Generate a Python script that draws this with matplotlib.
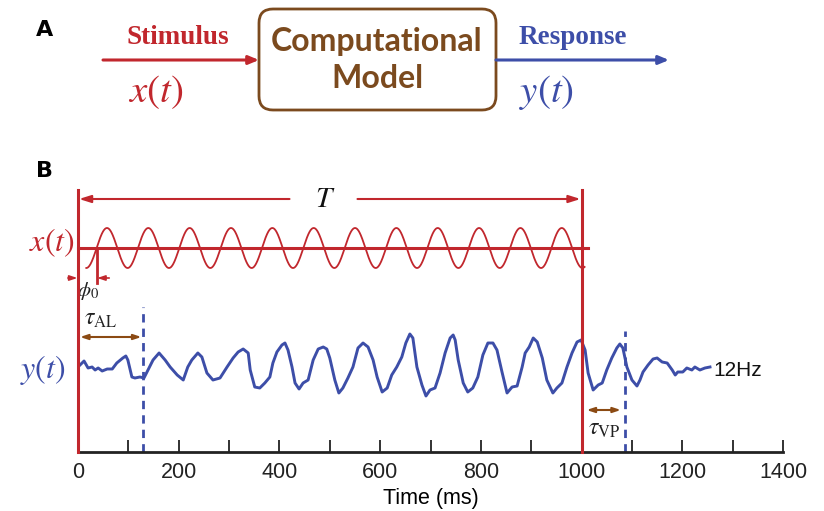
import numpy as np
import matplotlib
matplotlib.use('Agg')
import matplotlib.pyplot as plt
from matplotlib.patches import FancyBboxPatch

# ==================== data ====================

# stimulus: sinusoid, peaks
STIM_FREQ_HZ = 12.18
STIM_ZERO_MS = 37.0        # first upward zero crossing (phi_0)
STIM_END_MS = 1006.0

# response y(t) (ms, arbitrary units about baseline)
resp_t = [4, 12, 20, 28, 34, 40, 48, 58, 68, 77, 89, 95, 99, 107, 113, 123, 131, 139,
          149, 161, 173, 183, 197, 209, 218, 226, 238, 246, 256, 268, 282, 296, 308,
          318, 328, 338, 342, 351, 361, 371, 381, 387, 395, 405, 411, 417, 425, 431,
          439, 447, 457, 467, 477, 487, 494, 500, 510, 518, 526, 536, 546, 556, 566,
          576, 586, 594, 604, 614, 623, 633, 643, 651, 659, 665, 673, 683, 691, 699,
          709, 719, 729, 739, 745, 749, 755, 765, 774, 784, 794, 804, 814, 824, 832,
          842, 852, 862, 872, 882, 888, 896, 904, 912, 922, 931, 943, 951, 961, 971,
          981, 991, 999, 1007, 1013, 1023, 1033, 1041, 1050, 1060, 1070, 1076, 1082,
          1090, 1100, 1110, 1116, 1122, 1132, 1142, 1150, 1160, 1170, 1180, 1186,
          1191, 1201, 1209, 1219, 1225, 1235, 1245, 1255]
resp_v = [7, 11, 4, 5, 2, 4, 1, 3, 3, 9, 14, 16, 12, -5, -6, -5, -6, 2,
          12, 19, 12, 5, -3, -8, 5, 12, 19, 15, -1, -8, -6, 5, 14,
          20, 23, 19, 2, -15, -16, -11, -5, 9, 20, 27, 29, 22, 5, -11,
          -17, -11, -8, 12, 23, 25, 23, 14, -8, -21, -16, -6, 5, 24, 29,
          25, 12, -5, -20, -16, -3, 5, 15, 29, 38, 34, 5, -13, -24, -18,
          -16, -1, 19, 34, 37, 32, 12, -11, -20, -16, -5, 17, 29, 29, 22,
          0, -21, -15, -14, 5, 19, 25, 34, 30, 14, -8, -21, -16, -11, 5,
          19, 30, 32, 22, -1, -18, -13, -11, 2, 14, 24, 28, 24,
          5, -8, -14, -8, 0, 7, 13, 14, 10, 9, 2, -3,
          0, 0, 4, 2, 5, 2, 4, 5]

STIM_PERIOD_MS = 1000.0     # T
LATENCY_MS = 130.0          # tau_AL
PERSIST_MS = 1086.0         # end of tau_VP

xticks_major = [0, 200, 400, 600, 800, 1000, 1200, 1400]
xticks_minor = [100, 300, 500, 700, 900, 1100, 1300]

# ==================== style ====================

RED = '#c1272d'
BLUE = '#3d4ea8'
BROWN = '#7b4a1e'
ARROW_BROWN = '#8b4a13'
SERIF = 'Liberation Serif'
SANS = 'Liberation Sans'

fig = plt.figure(figsize=(8.24, 5.11), dpi=100)

# overlay in pixel coordinates for panel A and panel letters
ov = fig.add_axes([0, 0, 1, 1])
ov.set_xlim(0, 824)
ov.set_ylim(511, 0)
ov.axis('off')

ov.text(45, 30, 'A', fontsize=16, fontweight='bold', ha='center', va='center',
        family='DejaVu Sans')
ov.text(45, 171, 'B', fontsize=16, fontweight='bold', ha='center', va='center',
        family='DejaVu Sans')

box = FancyBboxPatch((259, 9), 237, 101, boxstyle='round,pad=0,rounding_size=14',
                     fc='white', ec=BROWN, lw=2)
ov.add_patch(box)
ov.text(377, 42, 'Computational', fontsize=23, fontweight='bold', color=BROWN,
        ha='center', va='center', family='Lato')
ov.text(377, 79, 'Model', fontsize=23, fontweight='bold', color=BROWN,
        ha='center', va='center', family='Lato')

ov.annotate('', xy=(259, 60), xytext=(103, 60),
            arrowprops=dict(arrowstyle='-|>,head_length=0.6,head_width=0.25',
                            color=RED, lw=2.2, shrinkA=0, shrinkB=0))
ov.annotate('', xy=(669, 60), xytext=(496, 60),
            arrowprops=dict(arrowstyle='-|>,head_length=0.6,head_width=0.25',
                            color=BLUE, lw=2.2, shrinkA=0, shrinkB=0))
ov.text(178, 37, 'Stimulus', fontsize=19.5, fontweight='bold', color=RED,
        ha='center', va='center', family=SERIF)
ov.text(573, 37, 'Response', fontsize=19.5, fontweight='bold', color=BLUE,
        ha='center', va='center', family=SERIF)
ov.text(156, 92, r'$x(t)$', fontsize=28, color=RED, ha='center', va='center',
        math_fontfamily='stix')
ov.text(547, 92, r'$y(t)$', fontsize=28, color=BLUE, ha='center', va='center',
        math_fontfamily='stix')

# ==================== panel B ====================

ax = fig.add_axes([78 / 824, 1 - 452 / 511, (783 - 78) / 824, (452 - 175) / 511])
ax.set_xlim(0, 1400)
ax.set_ylim(0, 277)
for side in ['left', 'top', 'right']:
    ax.spines[side].set_visible(False)
ax.spines['bottom'].set_linewidth(2)
ax.spines['bottom'].set_color('#222222')
ax.set_yticks([])
ax.set_xticks(xticks_major)
ax.set_xticks(xticks_minor, minor=True)
ax.tick_params(axis='x', which='both', direction='in', length=9, width=1.3,
               colors='#222222', labelsize=15.5, pad=7)
for lab in ax.get_xticklabels():
    lab.set_family(SANS)
ax.set_xlabel('Time (ms)', fontsize=15.5, labelpad=4, family=SANS)

STIM_BASE = 204
STIM_AMP = 20
RESP_BASE = 80

# stimulus, drawn from the trough just before the first zero crossing
stim_start = STIM_ZERO_MS - 250.0 / STIM_FREQ_HZ
t = np.linspace(stim_start, STIM_END_MS, 2000)
stim = np.sin(2 * np.pi * STIM_FREQ_HZ * (t - STIM_ZERO_MS) / 1000.0)
ax.plot(t, STIM_BASE + STIM_AMP * stim, color=RED, lw=1.3, clip_on=False)
ax.plot([0, 1012], [STIM_BASE, STIM_BASE], color=RED, lw=2.2, clip_on=False)

# red onset / offset lines
for tx in [0, STIM_PERIOD_MS]:
    ax.plot([tx, tx], [0, 262], color=RED, lw=2.2, clip_on=False, zorder=4)

# response
ax.plot(resp_t, RESP_BASE + np.array(resp_v), color=BLUE, lw=2.1, clip_on=False,
        solid_joinstyle='round')

# dashed latency markers
ax.plot([LATENCY_MS, LATENCY_MS], [0, 145], color=BLUE, lw=2, ls=(0, (3, 2.2)),
        clip_on=False)
ax.plot([PERSIST_MS, PERSIST_MS], [0, 121], color=BLUE, lw=2, ls=(0, (3, 2.2)),
        clip_on=False)

# T arrow with gap for label
arr = dict(arrowstyle='-|>,head_length=0.7,head_width=0.22', color=RED, lw=1.5,
           shrinkA=0, shrinkB=0)
ax.annotate('', xy=(2, 253), xytext=(420, 253), arrowprops=arr, annotation_clip=False)
ax.annotate('', xy=(998, 253), xytext=(555, 253), arrowprops=arr, annotation_clip=False)
ax.text(490, 253, r'$T$', fontsize=21, ha='center', va='center', color='#111111',
        math_fontfamily='stix')

# phi_0 marker
ax.plot([37, 37], [STIM_BASE, 169], color=RED, lw=2, clip_on=False)
small = dict(arrowstyle='-|>,head_length=0.45,head_width=0.15', color=RED, lw=1.2,
             shrinkA=0, shrinkB=0)
ax.annotate('', xy=(-1, 174), xytext=(-20, 174), arrowprops=small, annotation_clip=False)
ax.annotate('', xy=(38, 174), xytext=(62, 174), arrowprops=small, annotation_clip=False)
ax.text(19, 161, r'$\phi_0$', fontsize=15, ha='center', va='center', color='#222222',
        math_fontfamily='stix')

# tau arrows
dbl = dict(arrowstyle='<|-|>,head_length=0.45,head_width=0.15', color=ARROW_BROWN,
           lw=1.5, shrinkA=0, shrinkB=0)
ax.annotate('', xy=(4, 115), xytext=(LATENCY_MS - 4, 115), arrowprops=dbl,
            annotation_clip=False)
ax.annotate('', xy=(STIM_PERIOD_MS + 10, 42), xytext=(PERSIST_MS - 8, 42),
            arrowprops=dbl, annotation_clip=False)
ax.text(46, 134, r'$\tau_{\mathrm{AL}}$', fontsize=17, ha='center', va='center',
        color='#222222', math_fontfamily='stix')
ax.text(1046, 24, r'$\tau_{\mathrm{VP}}$', fontsize=17, ha='center', va='center',
        color='#222222', math_fontfamily='stix')

ax.text(1262, 82, '12Hz', fontsize=15, ha='left', va='center', color='#111111',
        family=SANS)

# axis-side labels
ax.text(-6, STIM_BASE + 5, r'$x(t)$', fontsize=23, color=RED, ha='right', va='center',
        math_fontfamily='stix', clip_on=False)
ax.text(-24, RESP_BASE + 2, r'$y(t)$', fontsize=23, color=BLUE, ha='right', va='center',
        math_fontfamily='stix', clip_on=False)

fig.savefig('out.png', dpi=100)
